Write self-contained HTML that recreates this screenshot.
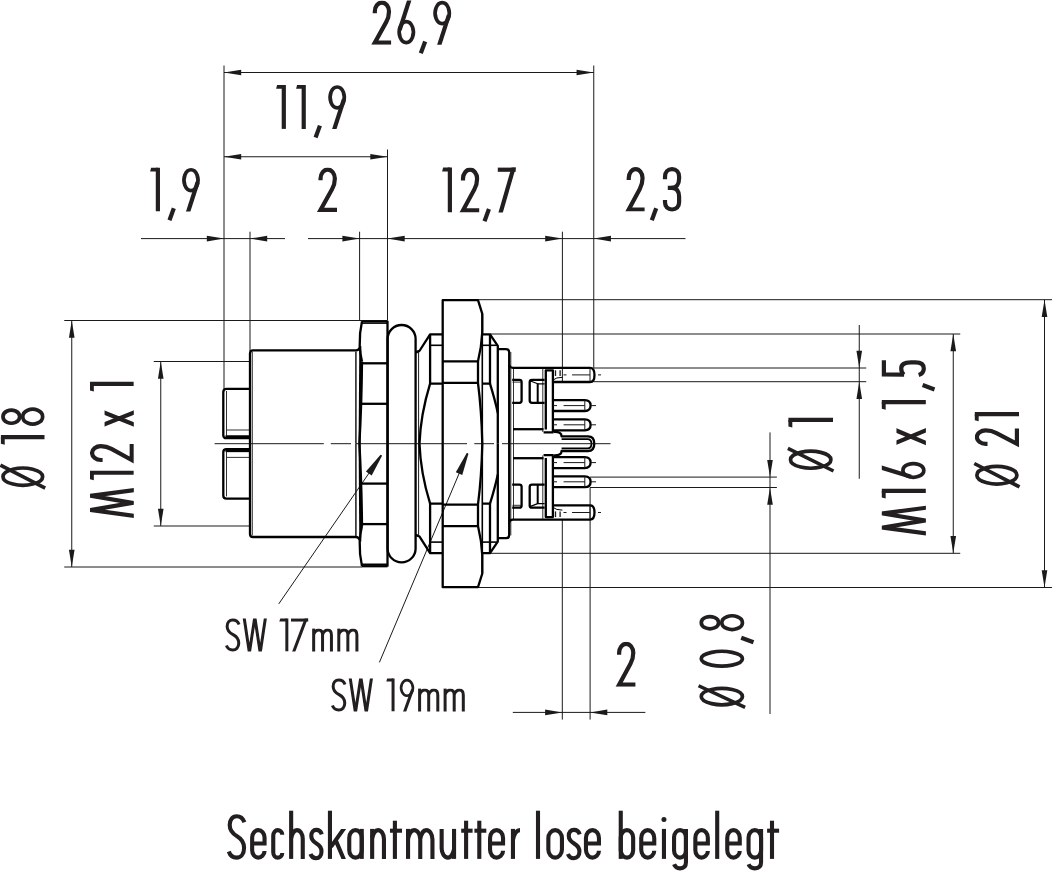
<!DOCTYPE html>
<html><head><meta charset="utf-8"><style>
html,body{margin:0;padding:0;background:#fff;}
svg{display:block;font-family:"Liberation Sans",sans-serif;}
</style></head><body>
<svg width="1052" height="871" viewBox="0 0 1052 871">
<defs><clipPath id="cb" clipPathUnits="userSpaceOnUse"><rect x="-10" y="0" width="60" height="44.5"/></clipPath>
<clipPath id="cx" clipPathUnits="userSpaceOnUse"><rect x="-10" y="14.8" width="60" height="29.7"/></clipPath>
<clipPath id="cm" clipPathUnits="userSpaceOnUse"><rect x="-10" y="13.6" width="60" height="30.9"/></clipPath><clipPath id="ck" clipPathUnits="userSpaceOnUse"><rect x="-5" y="-30" width="40" height="30"/></clipPath></defs>
<rect width="1052" height="871" fill="#fff"/>
<g transform="translate(372.70 0.50) scale(1.0055 0.9933)"><path d="M2.1,12.8 V11 A7.05,8.9 0 0 1 16.2,11 C16.2,15.5 15.4,18.2 13.4,21.8 L2.1,42.4 H18.3" fill="none" stroke="#231f20" stroke-width="4.2" vector-effect="non-scaling-stroke" stroke-miterlimit="20" clip-path="url(#cb)"/></g>
<g transform="translate(397.10 0.50) scale(1.0000 0.9933)"><path d="M9.2,21.3 A7.1,10.55 0 1 1 9.19,21.3 Z" fill="none" stroke="#231f20" stroke-width="3.70" vector-effect="non-scaling-stroke"/><path d="M2.6,29.5 L12.7,-2" fill="none" stroke="#231f20" stroke-width="4.2" vector-effect="non-scaling-stroke" stroke-miterlimit="20" clip-path="url(#cb)"/></g>
<g transform="translate(418.90 0.50) scale(0.9933 0.9933)"><path d="M6.3,41.2 L1.9,53.2" fill="none" stroke="#231f20" stroke-width="4.2" vector-effect="non-scaling-stroke" stroke-miterlimit="20"/></g>
<g transform="translate(433.00 0.50) scale(1.0000 0.9933)"><path d="M9.2,2.1 A7.1,10.55 0 1 1 9.19,2.1 Z" fill="none" stroke="#231f20" stroke-width="3.70" vector-effect="non-scaling-stroke"/><path d="M15.8,15 L5.7,46.5" fill="none" stroke="#231f20" stroke-width="4.2" vector-effect="non-scaling-stroke" stroke-miterlimit="20" clip-path="url(#cb)"/></g>
<g transform="translate(276.10 84.90) scale(1.0000 0.9888)"><path d="M7.7,-1 V44.5" fill="none" stroke="#231f20" stroke-width="4.2" vector-effect="non-scaling-stroke" stroke-miterlimit="20" clip-path="url(#cb)"/><path d="M1,0 H7.7 V3.9 H0 Z" fill="#231f20"/></g>
<g transform="translate(296.10 84.90) scale(0.9898 0.9888)"><path d="M7.7,-1 V44.5" fill="none" stroke="#231f20" stroke-width="4.2" vector-effect="non-scaling-stroke" stroke-miterlimit="20" clip-path="url(#cb)"/><path d="M1,0 H7.7 V3.9 H0 Z" fill="#231f20"/></g>
<g transform="translate(313.70 84.90) scale(0.9888 0.9888)"><path d="M6.3,41.2 L1.9,53.2" fill="none" stroke="#231f20" stroke-width="4.2" vector-effect="non-scaling-stroke" stroke-miterlimit="20"/></g>
<g transform="translate(328.00 84.90) scale(1.0000 0.9888)"><path d="M9.2,2.1 A7.1,10.55 0 1 1 9.19,2.1 Z" fill="none" stroke="#231f20" stroke-width="3.70" vector-effect="non-scaling-stroke"/><path d="M15.8,15 L5.7,46.5" fill="none" stroke="#231f20" stroke-width="4.2" vector-effect="non-scaling-stroke" stroke-miterlimit="20" clip-path="url(#cb)"/></g>
<g transform="translate(150.10 167.70) scale(1.0102 0.9865)"><path d="M7.7,-1 V44.5" fill="none" stroke="#231f20" stroke-width="4.2" vector-effect="non-scaling-stroke" stroke-miterlimit="20" clip-path="url(#cb)"/><path d="M1,0 H7.7 V3.9 H0 Z" fill="#231f20"/></g>
<g transform="translate(167.60 167.70) scale(0.9865 0.9865)"><path d="M6.3,41.2 L1.9,53.2" fill="none" stroke="#231f20" stroke-width="4.2" vector-effect="non-scaling-stroke" stroke-miterlimit="20"/></g>
<g transform="translate(181.90 167.70) scale(0.9891 0.9865)"><path d="M9.2,2.1 A7.1,10.55 0 1 1 9.19,2.1 Z" fill="none" stroke="#231f20" stroke-width="3.70" vector-effect="non-scaling-stroke"/><path d="M15.8,15 L5.7,46.5" fill="none" stroke="#231f20" stroke-width="4.2" vector-effect="non-scaling-stroke" stroke-miterlimit="20" clip-path="url(#cb)"/></g>
<g transform="translate(318.40 167.50) scale(1.0164 1.0000)"><path d="M2.1,12.8 V11 A7.05,8.9 0 0 1 16.2,11 C16.2,15.5 15.4,18.2 13.4,21.8 L2.1,42.4 H18.3" fill="none" stroke="#231f20" stroke-width="4.2" vector-effect="non-scaling-stroke" stroke-miterlimit="20" clip-path="url(#cb)"/></g>
<g transform="translate(442.10 167.60) scale(1.0102 1.0067)"><path d="M7.7,-1 V44.5" fill="none" stroke="#231f20" stroke-width="4.2" vector-effect="non-scaling-stroke" stroke-miterlimit="20" clip-path="url(#cb)"/><path d="M1,0 H7.7 V3.9 H0 Z" fill="#231f20"/></g>
<g transform="translate(460.90 167.60) scale(1.0000 1.0067)"><path d="M2.1,12.8 V11 A7.05,8.9 0 0 1 16.2,11 C16.2,15.5 15.4,18.2 13.4,21.8 L2.1,42.4 H18.3" fill="none" stroke="#231f20" stroke-width="4.2" vector-effect="non-scaling-stroke" stroke-miterlimit="20" clip-path="url(#cb)"/></g>
<g transform="translate(482.60 167.60) scale(1.0067 1.0067)"><path d="M6.3,41.2 L1.9,53.2" fill="none" stroke="#231f20" stroke-width="4.2" vector-effect="non-scaling-stroke" stroke-miterlimit="20"/></g>
<g transform="translate(497.80 167.60) scale(1.0000 1.0067)"><path d="M0,2.1 H17.9" fill="none" stroke="#231f20" stroke-width="4.2" vector-effect="non-scaling-stroke" stroke-miterlimit="20"/><path d="M16.4,-2 L2.3,46.5" fill="none" stroke="#231f20" stroke-width="4.2" vector-effect="non-scaling-stroke" stroke-miterlimit="20" clip-path="url(#cb)"/></g>
<g transform="translate(626.70 167.10) scale(0.9781 1.0000)"><path d="M2.1,12.8 V11 A7.05,8.9 0 0 1 16.2,11 C16.2,15.5 15.4,18.2 13.4,21.8 L2.1,42.4 H18.3" fill="none" stroke="#231f20" stroke-width="4.2" vector-effect="non-scaling-stroke" stroke-miterlimit="20" clip-path="url(#cb)"/></g>
<g transform="translate(649.90 167.10) scale(1.0000 1.0000)"><path d="M6.3,41.2 L1.9,53.2" fill="none" stroke="#231f20" stroke-width="4.2" vector-effect="non-scaling-stroke" stroke-miterlimit="20"/></g>
<g transform="translate(662.90 167.10) scale(1.0000 1.0000)"><path d="M2.1,12.2 V9.6 C2.1,4.9 4.9,2.1 9.15,2.1 C13.4,2.1 16.2,4.9 16.2,9.6 V11.5 C16.2,17.2 13.2,20.7 9,20.7 H4.9" fill="none" stroke="#231f20" stroke-width="4.2" vector-effect="non-scaling-stroke" stroke-miterlimit="20"/><path d="M8.5,20.7 H9 C13.5,20.7 16.2,24 16.2,29.5 V35.2 C16.2,39.8 13.4,42.4 9.15,42.4 C4.9,42.4 2.1,39.8 2.1,35.2 V33" fill="none" stroke="#231f20" stroke-width="4.2" vector-effect="non-scaling-stroke" stroke-miterlimit="20"/></g>
<g transform="translate(617.00 641.70) scale(1.0055 1.0135)"><path d="M2.1,12.8 V11 A7.05,8.9 0 0 1 16.2,11 C16.2,15.5 15.4,18.2 13.4,21.8 L2.1,42.4 H18.3" fill="none" stroke="#231f20" stroke-width="4.2" vector-effect="non-scaling-stroke" stroke-miterlimit="20" clip-path="url(#cb)"/></g>
<g transform="translate(90.00 517.80) rotate(-90) scale(1.0034 0.9843)"><path d="M1.6,48 L7.8,1.2 L14.85,43.3 L21.9,1.2 L28.1,48" fill="none" stroke="#231f20" stroke-width="4.2" vector-effect="non-scaling-stroke" stroke-miterlimit="20" clip-path="url(#cb)"/></g>
<g transform="translate(90.00 480.20) rotate(-90) scale(0.9694 0.9843)"><path d="M7.7,-1 V44.5" fill="none" stroke="#231f20" stroke-width="4.2" vector-effect="non-scaling-stroke" stroke-miterlimit="20" clip-path="url(#cb)"/><path d="M1,0 H7.7 V3.9 H0 Z" fill="#231f20"/></g>
<g transform="translate(90.00 462.10) rotate(-90) scale(0.9891 0.9843)"><path d="M2.1,12.8 V11 A7.05,8.9 0 0 1 16.2,11 C16.2,15.5 15.4,18.2 13.4,21.8 L2.1,42.4 H18.3" fill="none" stroke="#231f20" stroke-width="4.2" vector-effect="non-scaling-stroke" stroke-miterlimit="20" clip-path="url(#cb)"/></g>
<g transform="translate(90.00 426.70) rotate(-90) scale(0.9425 0.9843)"><path d="M1.5,12 L16,47 M15.9,12 L1.4,47" fill="none" stroke="#231f20" stroke-width="4.2" vector-effect="non-scaling-stroke" stroke-miterlimit="20" clip-path="url(#cx)"/></g>
<g transform="translate(90.00 391.40) rotate(-90) scale(0.9694 0.9843)"><path d="M7.7,-1 V44.5" fill="none" stroke="#231f20" stroke-width="4.2" vector-effect="non-scaling-stroke" stroke-miterlimit="20" clip-path="url(#cb)"/><path d="M1,0 H7.7 V3.9 H0 Z" fill="#231f20"/></g>
<g transform="translate(0.90 487.30) rotate(-90) scale(0.9907 0.9843)"><path d="M10.75,2.1 A8.65,20.15 0 1 1 10.74,2.1 Z" fill="none" stroke="#231f20" stroke-width="3.70" vector-effect="non-scaling-stroke"/><path d="M-0.8,45 L22.3,-0.5" fill="none" stroke="#231f20" stroke-width="3.57" vector-effect="non-scaling-stroke"/></g>
<g transform="translate(0.90 444.70) rotate(-90) scale(0.9796 0.9843)"><path d="M7.7,-1 V44.5" fill="none" stroke="#231f20" stroke-width="4.2" vector-effect="non-scaling-stroke" stroke-miterlimit="20" clip-path="url(#cb)"/><path d="M1,0 H7.7 V3.9 H0 Z" fill="#231f20"/></g>
<g transform="translate(0.90 426.20) rotate(-90) scale(1.0380 0.9843)"><path d="M9.2,2.1 A6.3,8.5 0 1 1 9.19,2.1 Z" fill="none" stroke="#231f20" stroke-width="3.70" vector-effect="non-scaling-stroke"/><path d="M9.2,22.2 A7.1,10.1 0 1 1 9.19,22.2 Z" fill="none" stroke="#231f20" stroke-width="3.70" vector-effect="non-scaling-stroke"/></g>
<g transform="translate(881.80 535.30) rotate(-90) scale(0.9966 0.9910)"><path d="M1.6,48 L7.8,1.2 L14.85,43.3 L21.9,1.2 L28.1,48" fill="none" stroke="#231f20" stroke-width="4.2" vector-effect="non-scaling-stroke" stroke-miterlimit="20" clip-path="url(#cb)"/></g>
<g transform="translate(881.80 498.50) rotate(-90) scale(0.9796 0.9910)"><path d="M7.7,-1 V44.5" fill="none" stroke="#231f20" stroke-width="4.2" vector-effect="non-scaling-stroke" stroke-miterlimit="20" clip-path="url(#cb)"/><path d="M1,0 H7.7 V3.9 H0 Z" fill="#231f20"/></g>
<g transform="translate(881.80 479.20) rotate(-90) scale(0.9511 0.9910)"><path d="M9.2,21.3 A7.1,10.55 0 1 1 9.19,21.3 Z" fill="none" stroke="#231f20" stroke-width="3.70" vector-effect="non-scaling-stroke"/><path d="M2.6,29.5 L12.7,-2" fill="none" stroke="#231f20" stroke-width="4.2" vector-effect="non-scaling-stroke" stroke-miterlimit="20" clip-path="url(#cb)"/></g>
<g transform="translate(881.80 445.30) rotate(-90) scale(1.0000 0.9910)"><path d="M1.5,12 L16,47 M15.9,12 L1.4,47" fill="none" stroke="#231f20" stroke-width="4.2" vector-effect="non-scaling-stroke" stroke-miterlimit="20" clip-path="url(#cx)"/></g>
<g transform="translate(881.80 409.70) rotate(-90) scale(0.9898 0.9910)"><path d="M7.7,-1 V44.5" fill="none" stroke="#231f20" stroke-width="4.2" vector-effect="non-scaling-stroke" stroke-miterlimit="20" clip-path="url(#cb)"/><path d="M1,0 H7.7 V3.9 H0 Z" fill="#231f20"/></g>
<g transform="translate(881.80 391.30) rotate(-90) scale(0.9910 0.9910)"><path d="M6.3,41.2 L1.9,53.2" fill="none" stroke="#231f20" stroke-width="4.2" vector-effect="non-scaling-stroke" stroke-miterlimit="20"/></g>
<g transform="translate(881.80 377.00) rotate(-90) scale(1.0000 0.9910)"><path d="M16.7,2.1 H2.6 L2.3,22.5" fill="none" stroke="#231f20" stroke-width="4.2" vector-effect="non-scaling-stroke" stroke-miterlimit="20"/><path d="M2.3,22.2 C4,20.4 6,19.6 8.6,19.6 C12.6,19.6 14.6,23 14.6,29.5 V34 C14.6,39.6 12.3,42.4 8.4,42.4 C5.2,42.4 3,40.6 2.0,37.2" fill="none" stroke="#231f20" stroke-width="4.2" vector-effect="non-scaling-stroke" stroke-miterlimit="20"/></g>
<g transform="translate(974.80 486.10) rotate(-90) scale(1.0140 0.9933)"><path d="M10.75,2.1 A8.65,20.15 0 1 1 10.74,2.1 Z" fill="none" stroke="#231f20" stroke-width="3.70" vector-effect="non-scaling-stroke"/><path d="M-0.8,45 L22.3,-0.5" fill="none" stroke="#231f20" stroke-width="3.57" vector-effect="non-scaling-stroke"/></g>
<g transform="translate(974.80 445.80) rotate(-90) scale(0.9508 0.9933)"><path d="M2.1,12.8 V11 A7.05,8.9 0 0 1 16.2,11 C16.2,15.5 15.4,18.2 13.4,21.8 L2.1,42.4 H18.3" fill="none" stroke="#231f20" stroke-width="4.2" vector-effect="non-scaling-stroke" stroke-miterlimit="20" clip-path="url(#cb)"/></g>
<g transform="translate(974.80 421.30) rotate(-90) scale(0.9286 0.9933)"><path d="M7.7,-1 V44.5" fill="none" stroke="#231f20" stroke-width="4.2" vector-effect="non-scaling-stroke" stroke-miterlimit="20" clip-path="url(#cb)"/><path d="M1,0 H7.7 V3.9 H0 Z" fill="#231f20"/></g>
<g transform="translate(788.40 470.20) rotate(-90) scale(0.9767 1.0022)"><path d="M10.75,2.1 A8.65,20.15 0 1 1 10.74,2.1 Z" fill="none" stroke="#231f20" stroke-width="3.70" vector-effect="non-scaling-stroke"/><path d="M-0.8,45 L22.3,-0.5" fill="none" stroke="#231f20" stroke-width="3.57" vector-effect="non-scaling-stroke"/></g>
<g transform="translate(788.40 427.60) rotate(-90) scale(1.0000 1.0022)"><path d="M7.7,-1 V44.5" fill="none" stroke="#231f20" stroke-width="4.2" vector-effect="non-scaling-stroke" stroke-miterlimit="20" clip-path="url(#cb)"/><path d="M1,0 H7.7 V3.9 H0 Z" fill="#231f20"/></g>
<g transform="translate(699.10 706.70) rotate(-90) scale(0.9395 1.0225)"><path d="M10.75,2.1 A8.65,20.15 0 1 1 10.74,2.1 Z" fill="none" stroke="#231f20" stroke-width="3.70" vector-effect="non-scaling-stroke"/><path d="M-0.8,45 L22.3,-0.5" fill="none" stroke="#231f20" stroke-width="3.57" vector-effect="non-scaling-stroke"/></g>
<g transform="translate(699.10 668.20) rotate(-90) scale(1.0215 1.0225)"><path d="M9.3,2.1 A7.2,20.15 0 1 1 9.29,2.1 Z" fill="none" stroke="#231f20" stroke-width="3.70" vector-effect="non-scaling-stroke"/></g>
<g transform="translate(699.10 644.20) rotate(-90) scale(1.0225 1.0225)"><path d="M6.3,41.2 L1.9,53.2" fill="none" stroke="#231f20" stroke-width="4.2" vector-effect="non-scaling-stroke" stroke-miterlimit="20"/></g>
<g transform="translate(699.10 631.50) rotate(-90) scale(0.9620 1.0225)"><path d="M9.2,2.1 A6.3,8.5 0 1 1 9.19,2.1 Z" fill="none" stroke="#231f20" stroke-width="3.70" vector-effect="non-scaling-stroke"/><path d="M9.2,22.2 A7.1,10.1 0 1 1 9.19,22.2 Z" fill="none" stroke="#231f20" stroke-width="3.70" vector-effect="non-scaling-stroke"/></g>
<g transform="translate(225.20 618.50) scale(0.7451 0.7438)"><path d="M18.6,8 C17,4 14,2.1 10.2,2.1 C5.5,2.1 2.6,5.5 2.6,10.6 C2.6,16.3 6.3,19.3 10.6,21.6 C15.6,24.2 18.2,27.5 18.2,33 C18.2,38.8 14.8,42.4 10,42.4 C6,42.4 3.1,40.3 1.6,36.4" fill="none" stroke="#231f20" stroke-width="3.0" vector-effect="non-scaling-stroke" stroke-miterlimit="20"/></g>
<g transform="translate(242.70 618.50) scale(0.7446 0.7438)"><path d="M1.8,-2 L9.0,46 L16.25,-2 L23.5,46 L30.7,-2" fill="none" stroke="#231f20" stroke-width="3.0" vector-effect="non-scaling-stroke" stroke-miterlimit="20" clip-path="url(#cb)"/></g>
<g transform="translate(279.30 618.50) scale(0.9796 0.7438)"><path d="M7.7,-1 V44.5" fill="none" stroke="#231f20" stroke-width="3.0" vector-effect="non-scaling-stroke" stroke-miterlimit="20" clip-path="url(#cb)"/><path d="M1,0 H7.7 V3.9 H0 Z" fill="#231f20"/></g>
<g transform="translate(291.00 618.50) scale(0.9609 0.7438)"><path d="M0,2.1 H17.9" fill="none" stroke="#231f20" stroke-width="3.0" vector-effect="non-scaling-stroke" stroke-miterlimit="20"/><path d="M16.4,-2 L2.3,46.5" fill="none" stroke="#231f20" stroke-width="3.0" vector-effect="non-scaling-stroke" stroke-miterlimit="20" clip-path="url(#cb)"/></g>
<g transform="translate(312.10 618.50) scale(0.7438 0.7438)"><path d="M2.1,13 V46 M2.1,22 C3.5,17.5 6,15.6 9.2,15.6 C12.5,15.6 14.05,18 14.05,22.5 V46 M14.05,22 C15.5,17.5 18,15.6 21.1,15.6 C24.4,15.6 26,18 26,22.5 V46" fill="none" stroke="#231f20" stroke-width="3.0" vector-effect="non-scaling-stroke" stroke-miterlimit="20" clip-path="url(#cm)"/></g>
<g transform="translate(337.20 618.50) scale(0.7580 0.7438)"><path d="M2.1,13 V46 M2.1,22 C3.5,17.5 6,15.6 9.2,15.6 C12.5,15.6 14.05,18 14.05,22.5 V46 M14.05,22 C15.5,17.5 18,15.6 21.1,15.6 C24.4,15.6 26,18 26,22.5 V46" fill="none" stroke="#231f20" stroke-width="3.0" vector-effect="non-scaling-stroke" stroke-miterlimit="20" clip-path="url(#cm)"/></g>
<g transform="translate(331.20 678.50) scale(0.7451 0.7438)"><path d="M18.6,8 C17,4 14,2.1 10.2,2.1 C5.5,2.1 2.6,5.5 2.6,10.6 C2.6,16.3 6.3,19.3 10.6,21.6 C15.6,24.2 18.2,27.5 18.2,33 C18.2,38.8 14.8,42.4 10,42.4 C6,42.4 3.1,40.3 1.6,36.4" fill="none" stroke="#231f20" stroke-width="3.0" vector-effect="non-scaling-stroke" stroke-miterlimit="20"/></g>
<g transform="translate(348.70 678.50) scale(0.7477 0.7438)"><path d="M1.8,-2 L9.0,46 L16.25,-2 L23.5,46 L30.7,-2" fill="none" stroke="#231f20" stroke-width="3.0" vector-effect="non-scaling-stroke" stroke-miterlimit="20" clip-path="url(#cb)"/></g>
<g transform="translate(386.30 678.50) scale(0.8776 0.7438)"><path d="M7.7,-1 V44.5" fill="none" stroke="#231f20" stroke-width="3.0" vector-effect="non-scaling-stroke" stroke-miterlimit="20" clip-path="url(#cb)"/><path d="M1,0 H7.7 V3.9 H0 Z" fill="#231f20"/></g>
<g transform="translate(399.40 678.50) scale(0.8261 0.7438)"><path d="M9.2,2.1 A7.1,10.55 0 1 1 9.19,2.1 Z" fill="none" stroke="#231f20" stroke-width="2.64" vector-effect="non-scaling-stroke"/><path d="M15.8,15 L5.7,46.5" fill="none" stroke="#231f20" stroke-width="3.0" vector-effect="non-scaling-stroke" stroke-miterlimit="20" clip-path="url(#cb)"/></g>
<g transform="translate(418.00 678.50) scale(0.7616 0.7438)"><path d="M2.1,13 V46 M2.1,22 C3.5,17.5 6,15.6 9.2,15.6 C12.5,15.6 14.05,18 14.05,22.5 V46 M14.05,22 C15.5,17.5 18,15.6 21.1,15.6 C24.4,15.6 26,18 26,22.5 V46" fill="none" stroke="#231f20" stroke-width="3.0" vector-effect="non-scaling-stroke" stroke-miterlimit="20" clip-path="url(#cm)"/></g>
<g transform="translate(443.50 678.50) scale(0.7616 0.7438)"><path d="M2.1,13 V46 M2.1,22 C3.5,17.5 6,15.6 9.2,15.6 C12.5,15.6 14.05,18 14.05,22.5 V46 M14.05,22 C15.5,17.5 18,15.6 21.1,15.6 C24.4,15.6 26,18 26,22.5 V46" fill="none" stroke="#231f20" stroke-width="3.0" vector-effect="non-scaling-stroke" stroke-miterlimit="20" clip-path="url(#cm)"/></g>
<g transform="translate(227.30 814.10) scale(0.9216 1.0270)"><path d="M18.6,8 C17,4 14,2.1 10.2,2.1 C5.5,2.1 2.6,5.5 2.6,10.6 C2.6,16.3 6.3,19.3 10.6,21.6 C15.6,24.2 18.2,27.5 18.2,33 C18.2,38.8 14.8,42.4 10,42.4 C6,42.4 3.1,40.3 1.6,36.4" fill="none" stroke="#231f20" stroke-width="4.1" vector-effect="non-scaling-stroke" stroke-miterlimit="20"/></g>
<g transform="translate(309.40 828.40) scale(0.6716 0.7034)"><path d="M18.4,8.5 C17,4.2 14,2.1 10.2,2.1 C5.8,2.1 2.8,5.3 2.8,10.6 C2.8,16.3 6.5,19.3 10.6,21.6 C15.4,24.2 18,27.5 18,33 C18,38.8 14.8,42.4 10,42.4 C6,42.4 3.1,40.3 1.6,36.4" fill="none" stroke="#231f20" stroke-width="4.1" vector-effect="non-scaling-stroke" stroke-miterlimit="20"/></g>
<g transform="translate(566.80 828.40) scale(0.7010 0.7034)"><path d="M18.4,8.5 C17,4.2 14,2.1 10.2,2.1 C5.8,2.1 2.8,5.3 2.8,10.6 C2.8,16.3 6.5,19.3 10.6,21.6 C15.4,24.2 18,27.5 18,33 C18,38.8 14.8,42.4 10,42.4 C6,42.4 3.1,40.3 1.6,36.4" fill="none" stroke="#231f20" stroke-width="4.1" vector-effect="non-scaling-stroke" stroke-miterlimit="20"/></g>
<g transform="translate(250.10 858.90)"><path d="M2.05,-15.40 H14.45 V-21.31 C14.45,-25.42 11.67,-28.75 8.25,-28.75 C4.83,-28.75 2.05,-25.42 2.05,-21.31 V-8.69 C2.05,-4.58 4.83,-1.25 8.25,-1.25 C10.99,-1.25 14.45,-3.85 14.45,-7.95" fill="none" stroke="#231f20" stroke-width="4.1"/></g>
<g transform="translate(271.20 858.90)"><path d="M11.05,-24.16 C11.05,-27.13 8.54,-28.75 6.55,-28.75 C4.06,-28.75 2.05,-26.33 2.05,-23.35 V-6.65 C2.05,-3.67 4.06,-1.25 6.55,-1.25 C8.54,-1.25 11.05,-2.87 11.05,-5.84" fill="none" stroke="#231f20" stroke-width="4.1"/></g>
<g transform="translate(289.10 858.90)"><path d="M2.05,-48.20 V0" fill="none" stroke="#231f20" stroke-width="4.1"/><path d="M2.05,-20.92 C3.50,-26.14 4.65,-28.75 7.85,-28.75 C11.05,-28.75 13.65,-24.86 13.65,-20.05 V0" fill="none" stroke="#231f20" stroke-width="4.1"/></g>
<g transform="translate(327.90 858.90)"><path d="M2.05,-48.20 V0" fill="none" stroke="#231f20" stroke-width="4.1"/><path d="M17.20,-32.00 L3.05,-12.00 M7.64,-19.00 L16.60,2.00" fill="none" stroke="#231f20" stroke-width="4.1" clip-path="url(#ck)"/></g>
<g transform="translate(347.20 858.90)"><path d="M14.55,-30.00 V0" fill="none" stroke="#231f20" stroke-width="4.1"/><path d="M2.05,-21.25 C2.05,-25.39 4.85,-28.75 8.30,-28.75 C11.75,-28.75 14.55,-25.39 14.55,-21.25 V-8.75 C14.55,-4.61 11.75,-1.25 8.30,-1.25 C4.85,-1.25 2.05,-4.61 2.05,-8.75 Z" fill="none" stroke="#231f20" stroke-width="4.1"/></g>
<g transform="translate(370.10 858.90)"><path d="M2.05,-30.00 V0" fill="none" stroke="#231f20" stroke-width="4.1"/><path d="M2.05,-20.78 C3.52,-26.09 4.69,-28.75 7.95,-28.75 C11.21,-28.75 13.85,-24.79 13.85,-19.90 V0" fill="none" stroke="#231f20" stroke-width="4.1"/></g>
<g transform="translate(390.00 858.90)"><path d="M4.90,-38.20 V0" fill="none" stroke="#231f20" stroke-width="4.1"/><path d="M0,-28.20 H12.00" fill="none" stroke="#231f20" stroke-width="4.1"/></g>
<g transform="translate(406.00 858.90)"><path d="M2.05,-30.00 V0" fill="none" stroke="#231f20" stroke-width="4.1"/><path d="M2.05,-20.52 C3.57,-26.00 4.78,-28.75 8.15,-28.75 C11.52,-28.75 14.25,-24.65 14.25,-19.60 V0" fill="none" stroke="#231f20" stroke-width="4.1"/><path d="M14.25,-20.52 C15.78,-26.00 16.98,-28.75 20.35,-28.75 C23.72,-28.75 26.45,-24.65 26.45,-19.60 V0" fill="none" stroke="#231f20" stroke-width="4.1"/></g>
<g transform="translate(439.60 858.90)"><path d="M14.45,-30.00 V0" fill="none" stroke="#231f20" stroke-width="4.1"/><path d="M2.05,-30.00 V-10.55 C2.05,-5.41 4.83,-1.25 8.25,-1.25 C11.67,-1.25 12.90,-4.04 14.45,-9.62" fill="none" stroke="#231f20" stroke-width="4.1"/></g>
<g transform="translate(461.20 858.90)"><path d="M4.90,-38.20 V0" fill="none" stroke="#231f20" stroke-width="4.1"/><path d="M0,-28.20 H11.40" fill="none" stroke="#231f20" stroke-width="4.1"/></g>
<g transform="translate(474.40 858.90)"><path d="M4.90,-38.20 V0" fill="none" stroke="#231f20" stroke-width="4.1"/><path d="M0,-28.20 H11.90" fill="none" stroke="#231f20" stroke-width="4.1"/></g>
<g transform="translate(488.00 858.90)"><path d="M2.05,-15.40 H15.05 V-20.95 C15.05,-25.26 12.14,-28.75 8.55,-28.75 C4.96,-28.75 2.05,-25.26 2.05,-20.95 V-9.05 C2.05,-4.74 4.96,-1.25 8.55,-1.25 C11.42,-1.25 15.05,-3.98 15.05,-8.27" fill="none" stroke="#231f20" stroke-width="4.1"/></g>
<g transform="translate(510.90 858.90)"><path d="M2.05,-30.00 V0" fill="none" stroke="#231f20" stroke-width="4.1"/><path d="M2.05,-19.00 C3.55,-26.50 5.55,-28.75 9.10,-28.75" fill="none" stroke="#231f20" stroke-width="4.1"/></g>
<g transform="translate(536.00 858.90)"><path d="M2.00,-48.20 V0" fill="none" stroke="#231f20" stroke-width="4.1"/></g>
<g transform="translate(546.30 858.90)"><path d="M2.05,-20.59 C2.05,-25.10 5.09,-28.75 8.85,-28.75 C12.61,-28.75 15.65,-25.10 15.65,-20.59 V-9.41 C15.65,-4.90 12.61,-1.25 8.85,-1.25 C5.09,-1.25 2.05,-4.90 2.05,-9.41 Z" fill="none" stroke="#231f20" stroke-width="4.1"/></g>
<g transform="translate(583.90 858.90)"><path d="M2.05,-15.40 H15.05 V-20.95 C15.05,-25.26 12.14,-28.75 8.55,-28.75 C4.96,-28.75 2.05,-25.26 2.05,-20.95 V-9.05 C2.05,-4.74 4.96,-1.25 8.55,-1.25 C11.42,-1.25 15.05,-3.98 15.05,-8.27" fill="none" stroke="#231f20" stroke-width="4.1"/></g>
<g transform="translate(618.70 858.90)"><path d="M2.05,-48.20 V0" fill="none" stroke="#231f20" stroke-width="4.1"/><path d="M2.05,-21.31 C2.05,-25.42 4.83,-28.75 8.25,-28.75 C11.67,-28.75 14.45,-25.42 14.45,-21.31 V-8.69 C14.45,-4.58 11.67,-1.25 8.25,-1.25 C4.83,-1.25 2.05,-4.58 2.05,-8.69 Z" fill="none" stroke="#231f20" stroke-width="4.1"/></g>
<g transform="translate(639.20 858.90)"><path d="M2.05,-15.40 H15.05 V-20.95 C15.05,-25.26 12.14,-28.75 8.55,-28.75 C4.96,-28.75 2.05,-25.26 2.05,-20.95 V-9.05 C2.05,-4.74 4.96,-1.25 8.55,-1.25 C11.42,-1.25 15.05,-3.98 15.05,-8.27" fill="none" stroke="#231f20" stroke-width="4.1"/></g>
<g transform="translate(661.30 858.90)"><path d="M2.65,-30.00 V0" fill="none" stroke="#231f20" stroke-width="4.1"/><circle cx="2.65" cy="-39.50" r="2.5" fill="#231f20"/></g>
<g transform="translate(672.00 858.90)"><path d="M2.05,-21.61 C2.05,-25.55 4.71,-28.75 8.00,-28.75 C11.29,-28.75 13.95,-25.55 13.95,-21.61 V-8.39 C13.95,-4.45 11.29,-1.25 8.00,-1.25 C4.71,-1.25 2.05,-4.45 2.05,-8.39 Z" fill="none" stroke="#231f20" stroke-width="4.1"/><path d="M13.95,-30.00 V3.45 C13.95,8.45 11.29,9.45 8.00,9.45 C5.70,9.45 3.05,7.95 2.05,5.45" fill="none" stroke="#231f20" stroke-width="4.1"/></g>
<g transform="translate(693.30 858.90)"><path d="M2.05,-15.40 H14.55 V-21.25 C14.55,-25.39 11.75,-28.75 8.30,-28.75 C4.85,-28.75 2.05,-25.39 2.05,-21.25 V-8.75 C2.05,-4.61 4.85,-1.25 8.30,-1.25 C11.06,-1.25 14.55,-3.88 14.55,-8.00" fill="none" stroke="#231f20" stroke-width="4.1"/></g>
<g transform="translate(715.20 858.90)"><path d="M2.00,-48.20 V0" fill="none" stroke="#231f20" stroke-width="4.1"/></g>
<g transform="translate(725.20 858.90)"><path d="M2.05,-15.40 H14.55 V-21.25 C14.55,-25.39 11.75,-28.75 8.30,-28.75 C4.85,-28.75 2.05,-25.39 2.05,-21.25 V-8.75 C2.05,-4.61 4.85,-1.25 8.30,-1.25 C11.06,-1.25 14.55,-3.88 14.55,-8.00" fill="none" stroke="#231f20" stroke-width="4.1"/></g>
<g transform="translate(746.50 858.90)"><path d="M2.05,-21.25 C2.05,-25.39 4.85,-28.75 8.30,-28.75 C11.75,-28.75 14.55,-25.39 14.55,-21.25 V-8.75 C14.55,-4.61 11.75,-1.25 8.30,-1.25 C4.85,-1.25 2.05,-4.61 2.05,-8.75 Z" fill="none" stroke="#231f20" stroke-width="4.1"/><path d="M14.55,-30.00 V3.45 C14.55,8.45 11.75,9.45 8.30,9.45 C5.88,9.45 3.05,7.95 2.05,5.45" fill="none" stroke="#231f20" stroke-width="4.1"/></g>
<g transform="translate(767.10 858.90)"><path d="M4.90,-38.20 V0" fill="none" stroke="#231f20" stroke-width="4.1"/><path d="M0,-28.20 H12.00" fill="none" stroke="#231f20" stroke-width="4.1"/></g>
<line x1="224" y1="65.5" x2="224" y2="388.8" stroke="#1a1a1a" stroke-width="1.0"/>
<line x1="250" y1="231.7" x2="250" y2="351" stroke="#1a1a1a" stroke-width="1.0"/>
<line x1="359.6" y1="231.7" x2="359.6" y2="320.5" stroke="#1a1a1a" stroke-width="1.0"/>
<line x1="387.5" y1="149.5" x2="387.5" y2="320.5" stroke="#1a1a1a" stroke-width="1.0"/>
<line x1="562.4" y1="231.7" x2="562.4" y2="381.6" stroke="#1a1a1a" stroke-width="1.0"/>
<line x1="593.75" y1="65.5" x2="593.75" y2="368" stroke="#1a1a1a" stroke-width="1.0"/>
<line x1="224" y1="72.5" x2="593.75" y2="72.5" stroke="#1a1a1a" stroke-width="1.0"/>
<polygon points="224.00,72.50 241.20,69.70 241.20,75.30" fill="#1a1a1a"/>
<polygon points="593.75,72.50 576.55,69.70 576.55,75.30" fill="#1a1a1a"/>
<line x1="224" y1="156.75" x2="387.5" y2="156.75" stroke="#1a1a1a" stroke-width="1.0"/>
<polygon points="224.00,156.75 241.20,153.95 241.20,159.55" fill="#1a1a1a"/>
<polygon points="387.50,156.75 370.30,153.95 370.30,159.55" fill="#1a1a1a"/>
<line x1="141" y1="238.6" x2="285" y2="238.6" stroke="#1a1a1a" stroke-width="1.0"/>
<polygon points="224.00,238.60 206.80,235.80 206.80,241.40" fill="#1a1a1a"/>
<polygon points="250.00,238.60 267.20,235.80 267.20,241.40" fill="#1a1a1a"/>
<line x1="308" y1="238.6" x2="685.5" y2="238.6" stroke="#1a1a1a" stroke-width="1.0"/>
<polygon points="359.60,238.60 342.40,235.80 342.40,241.40" fill="#1a1a1a"/>
<polygon points="387.50,238.60 404.70,235.80 404.70,241.40" fill="#1a1a1a"/>
<polygon points="562.40,238.60 545.20,235.80 545.20,241.40" fill="#1a1a1a"/>
<polygon points="593.75,238.60 610.95,235.80 610.95,241.40" fill="#1a1a1a"/>
<line x1="64.25" y1="320.5" x2="362" y2="320.5" stroke="#1a1a1a" stroke-width="1.0"/>
<line x1="64.25" y1="567.0" x2="362" y2="567.0" stroke="#1a1a1a" stroke-width="1.0"/>
<line x1="71.75" y1="320.5" x2="71.75" y2="567.0" stroke="#1a1a1a" stroke-width="1.0"/>
<polygon points="71.75,320.50 68.95,337.70 74.55,337.70" fill="#1a1a1a"/>
<polygon points="71.75,567.00 68.95,549.80 74.55,549.80" fill="#1a1a1a"/>
<line x1="153.75" y1="361.5" x2="250" y2="361.5" stroke="#1a1a1a" stroke-width="1.0"/>
<line x1="153.75" y1="526.0" x2="250" y2="526.0" stroke="#1a1a1a" stroke-width="1.0"/>
<line x1="160.75" y1="361.5" x2="160.75" y2="526.0" stroke="#1a1a1a" stroke-width="1.0"/>
<polygon points="160.75,361.50 157.95,378.70 163.55,378.70" fill="#1a1a1a"/>
<polygon points="160.75,526.00 157.95,508.80 163.55,508.80" fill="#1a1a1a"/>
<line x1="478" y1="299.7" x2="1052" y2="299.7" stroke="#1a1a1a" stroke-width="1.0"/>
<line x1="478" y1="587.5" x2="1052" y2="587.5" stroke="#1a1a1a" stroke-width="1.0"/>
<line x1="1044.5" y1="299.7" x2="1044.5" y2="587.5" stroke="#1a1a1a" stroke-width="1.0"/>
<polygon points="1044.50,299.70 1041.70,316.90 1047.30,316.90" fill="#1a1a1a"/>
<polygon points="1044.50,587.50 1041.70,570.30 1047.30,570.30" fill="#1a1a1a"/>
<line x1="490" y1="334.0" x2="960.25" y2="334.0" stroke="#1a1a1a" stroke-width="1.0"/>
<line x1="490" y1="553.3" x2="960.25" y2="553.3" stroke="#1a1a1a" stroke-width="1.0"/>
<line x1="953.25" y1="334.0" x2="953.25" y2="553.3" stroke="#1a1a1a" stroke-width="1.0"/>
<polygon points="953.25,334.00 950.45,351.20 956.05,351.20" fill="#1a1a1a"/>
<polygon points="953.25,553.30 950.45,536.10 956.05,536.10" fill="#1a1a1a"/>
<line x1="594" y1="368" x2="866.25" y2="368" stroke="#1a1a1a" stroke-width="1.0"/>
<line x1="590" y1="381.7" x2="866.25" y2="381.7" stroke="#1a1a1a" stroke-width="1.0"/>
<line x1="859.25" y1="325" x2="859.25" y2="478.75" stroke="#1a1a1a" stroke-width="1.0"/>
<polygon points="859.25,368.00 856.45,350.80 862.05,350.80" fill="#1a1a1a"/>
<polygon points="859.25,381.70 856.45,398.90 862.05,398.90" fill="#1a1a1a"/>
<line x1="590" y1="477.1" x2="776.9" y2="477.1" stroke="#1a1a1a" stroke-width="1.0"/>
<line x1="590" y1="487.5" x2="776.9" y2="487.5" stroke="#1a1a1a" stroke-width="1.0"/>
<line x1="770" y1="432.4" x2="770" y2="714" stroke="#1a1a1a" stroke-width="1.0"/>
<polygon points="770.00,477.10 767.20,459.90 772.80,459.90" fill="#1a1a1a"/>
<polygon points="770.00,487.50 767.20,504.70 772.80,504.70" fill="#1a1a1a"/>
<line x1="562.3" y1="519.5" x2="562.3" y2="719.6" stroke="#1a1a1a" stroke-width="1.0"/>
<line x1="590.1" y1="487.5" x2="590.1" y2="719.6" stroke="#1a1a1a" stroke-width="1.0"/>
<line x1="512.8" y1="712.4" x2="645.4" y2="712.4" stroke="#1a1a1a" stroke-width="1.0"/>
<polygon points="562.30,712.40 545.10,709.60 545.10,715.20" fill="#1a1a1a"/>
<polygon points="590.10,712.40 607.30,709.60 607.30,715.20" fill="#1a1a1a"/>
<line x1="278.75" y1="603.9" x2="381.3" y2="455.3" stroke="#1a1a1a" stroke-width="1.0"/>
<polygon points="382.04,455.81 371.68,475.39 365.92,471.42 380.56,454.79" fill="#1a1a1a"/>
<line x1="379.4" y1="662.4" x2="467.6" y2="453.4" stroke="#1a1a1a" stroke-width="1.0"/>
<polygon points="468.43,453.75 462.27,475.03 455.82,472.31 466.77,453.05" fill="#1a1a1a"/>
<line x1="214.6" y1="443.7" x2="323.8" y2="443.7" stroke="#1a1a1a" stroke-width="1.0"/>
<line x1="330.8" y1="443.7" x2="351" y2="443.7" stroke="#1a1a1a" stroke-width="1.0"/>
<line x1="356" y1="443.7" x2="467" y2="443.7" stroke="#1a1a1a" stroke-width="1.0"/>
<line x1="474.3" y1="443.7" x2="494" y2="443.7" stroke="#1a1a1a" stroke-width="1.0"/>
<line x1="502" y1="443.7" x2="610.5" y2="443.7" stroke="#1a1a1a" stroke-width="1.0"/>
<path d="M250,388.8 H226.5 Q223.3,388.8 223.3,392 V435.2 Q223.3,438.2 226.5,438.2 H250" stroke="#000" stroke-width="2.3" fill="none" stroke-linejoin="round"/>
<line x1="250" y1="436.4" x2="225.5" y2="436.4" stroke="#000" stroke-width="2.3"/>
<line x1="226.5" y1="391" x2="226.5" y2="436" stroke="#1a1a1a" stroke-width="0.9"/>
<line x1="226.5" y1="430" x2="250" y2="430" stroke="#1a1a1a" stroke-width="0.9"/>
<path d="M250,443.7 V353.5 Q250,350.4 253,350.4 H356 Q358.6,350.4 359.6,347.6" stroke="#000" stroke-width="2.3" fill="none" stroke-linejoin="round"/>
<line x1="355.9" y1="351.5" x2="355.9" y2="443.7" stroke="#1a1a1a" stroke-width="1.5"/>
<line x1="252.3" y1="352" x2="252.3" y2="443.7" stroke="#1a1a1a" stroke-width="0.9"/>
<path d="M362,321.2 H387.5" stroke="#000" stroke-width="2.3" fill="none" stroke-linejoin="round"/>
<path d="M362,323.1 H387.5" stroke="#000" stroke-width="1.6" fill="none" stroke-linejoin="round"/>
<path d="M387.5,320.8 V443.7" stroke="#000" stroke-width="2.3" fill="none" stroke-linejoin="round"/>
<path d="M362,321.2 Q359.3,333 359.7,346 Q360.2,354 362,361.4" stroke="#000" stroke-width="2.3" fill="none" stroke-linejoin="round"/>
<path d="M362,361.4 Q361.6,405 359.4,443.7" stroke="#000" stroke-width="2.3" fill="none" stroke-linejoin="round"/>
<path d="M360.3,346 L359.6,443.7" stroke="#000" stroke-width="2.0" fill="none" stroke-linejoin="round"/>
<line x1="362" y1="363.3" x2="387.5" y2="363.3" stroke="#000" stroke-width="2.3"/>
<line x1="362" y1="403.8" x2="387.5" y2="403.8" stroke="#000" stroke-width="2.3"/>
<path d="M387.6,443.7 V339 A14,14 0 0 1 415.6,339 V443.7" stroke="#000" stroke-width="2.3" fill="none" stroke-linejoin="round"/>
<path d="M416,353 Q417,351.2 419.4,351 L430.1,334.3 H442.7" stroke="#000" stroke-width="2.3" fill="none" stroke-linejoin="round"/>
<line x1="418.6" y1="352" x2="418.6" y2="443.7" stroke="#1a1a1a" stroke-width="1.0"/>
<line x1="430.1" y1="345.3" x2="442.7" y2="345.3" stroke="#000" stroke-width="1.6"/>
<path d="M430.1,334.3 V383.7 H442.7" stroke="#000" stroke-width="2.3" fill="none" stroke-linejoin="round"/>
<path d="M430.1,383.7 Q420.5,415 419.5,443.7" stroke="#000" stroke-width="2.3" fill="none" stroke-linejoin="round"/>
<path d="M442.7,443.7 V300.2 H478 L482.3,313.9 V332 Q481.5,347 478,361.3 H442.7" stroke="#000" stroke-width="2.3" fill="none" stroke-linejoin="round"/>
<line x1="442.7" y1="382.8" x2="478" y2="382.8" stroke="#000" stroke-width="2.3"/>
<path d="M478,361.3 V383 Q481.5,410 482.3,443.7" stroke="#000" stroke-width="2.3" fill="none" stroke-linejoin="round"/>
<path d="M482.3,334.3 H490 L497.8,345.8 V443.7" stroke="#000" stroke-width="2.3" fill="none" stroke-linejoin="round"/>
<line x1="482.3" y1="345.3" x2="497.8" y2="345.3" stroke="#000" stroke-width="1.6"/>
<path d="M490,334.3 V383.7 H482.3" stroke="#000" stroke-width="2.3" fill="none" stroke-linejoin="round"/>
<path d="M490,383.7 Q495,400 497.8,413" stroke="#000" stroke-width="2.3" fill="none" stroke-linejoin="round"/>
<path d="M482.3,313.9 V443.7" stroke="#000" stroke-width="1.6" fill="none" stroke-linejoin="round"/>
<path d="M497.9,349.2 H506 Q509.2,349.2 509.2,352.3 V443.7" stroke="#000" stroke-width="2.3" fill="none" stroke-linejoin="round"/>
<line x1="510.8" y1="352" x2="510.8" y2="443.7" stroke="#1a1a1a" stroke-width="0.9"/>
<line x1="513.5" y1="368" x2="513.5" y2="443.7" stroke="#1a1a1a" stroke-width="0.9"/>
<path d="M509.2,365 Q509.5,367.8 513,367.8 H590 Q594.5,367.8 594.5,374.9 Q594.5,382 590,382 H552.9" stroke="#000" stroke-width="2.3" fill="none" stroke-linejoin="round"/>
<path d="M545.8,429.5 V370.3 H552.9 V432 M543.6,432.3 H553.3" stroke="#000" stroke-width="2.3" fill="none" stroke-linejoin="round"/>
<line x1="542.8" y1="368.5" x2="542.8" y2="432" stroke="#1a1a1a" stroke-width="0.9"/>
<path d="M512.2,379.8 H519.5 Q521.6,379.8 521.6,382 V400.6 Q521.6,402.8 519.5,402.8 H512.2" stroke="#000" stroke-width="2.3" fill="none" stroke-linejoin="round"/>
<line x1="512.5" y1="382.1" x2="521.6" y2="382.1" stroke="#1a1a1a" stroke-width="0.9"/>
<path d="M544.6,379.8 H532 Q529.7,379.8 529.7,382 V400.6 Q529.7,402.8 532,402.8 H544.6" stroke="#000" stroke-width="2.3" fill="none" stroke-linejoin="round"/>
<path d="M537.7,383.6 V402.8" stroke="#000" stroke-width="2.0" fill="none" stroke-linejoin="round"/>
<path d="M530.5,381 L537.7,383.8 H544.6" stroke="#000" stroke-width="1.2" fill="none" stroke-linejoin="round"/>
<line x1="513" y1="429.2" x2="543.5" y2="429.2" stroke="#000" stroke-width="2.3"/>
<line x1="555.5" y1="370.3" x2="555.5" y2="376" stroke="#1a1a1a" stroke-width="1.3"/>
<line x1="560.1" y1="370.3" x2="560.1" y2="376" stroke="#1a1a1a" stroke-width="1.3"/>
<path d="M553,380 Q556,377.3 562.4,377.3" stroke="#000" stroke-width="1.0" fill="none" stroke-linejoin="round"/>
<path d="M552.9,400.2 H584.8 Q590.6,400.2 590.6,405.6 Q590.6,411.0 584.8,411.0 H552.9" stroke="#000" stroke-width="2.3" fill="none" stroke-linejoin="round"/>
<line x1="584.8" y1="400.2" x2="584.8" y2="411.0" stroke="#1a1a1a" stroke-width="1.0"/>
<line x1="553" y1="405.6" x2="557" y2="405.6" stroke="#1a1a1a" stroke-width="1.0"/>
<line x1="563.6" y1="405.6" x2="584.8" y2="405.6" stroke="#1a1a1a" stroke-width="1.0"/>
<line x1="591" y1="405.6" x2="596" y2="405.6" stroke="#1a1a1a" stroke-width="1.0"/>
<path d="M552.9,419.3 H584.8 Q590.6,419.3 590.6,424.8 Q590.6,430.3 584.8,430.3 H552.9" stroke="#000" stroke-width="2.3" fill="none" stroke-linejoin="round"/>
<line x1="584.8" y1="419.3" x2="584.8" y2="430.3" stroke="#1a1a1a" stroke-width="1.0"/>
<line x1="553" y1="424.8" x2="557" y2="424.8" stroke="#1a1a1a" stroke-width="1.0"/>
<line x1="563.6" y1="424.8" x2="584.8" y2="424.8" stroke="#1a1a1a" stroke-width="1.0"/>
<line x1="591" y1="424.8" x2="596" y2="424.8" stroke="#1a1a1a" stroke-width="1.0"/>
<line x1="590" y1="368" x2="590" y2="381.8" stroke="#1a1a1a" stroke-width="1.0"/>
<line x1="563.5" y1="374.9" x2="566.5" y2="374.9" stroke="#1a1a1a" stroke-width="1.0"/>
<line x1="572" y1="374.9" x2="590" y2="374.9" stroke="#1a1a1a" stroke-width="1.0"/>
<line x1="598" y1="374.9" x2="601" y2="374.9" stroke="#1a1a1a" stroke-width="1.0"/>
<path d="M553.3,432 Q561.6,431.5 561.6,436.4 H588 Q594.3,436.4 594.3,443.7" stroke="#000" stroke-width="2.3" fill="none" stroke-linejoin="round"/>
<path d="M561.6,439.1 H587.5 Q591.5,439.1 591.5,443.7" stroke="#000" stroke-width="1.8" fill="none" stroke-linejoin="round"/>
<g transform="translate(0 887.4) scale(1 -1)">
<path d="M250,388.8 H226.5 Q223.3,388.8 223.3,392 V435.2 Q223.3,438.2 226.5,438.2 H250" stroke="#000" stroke-width="2.3" fill="none" stroke-linejoin="round"/>
<line x1="250" y1="436.4" x2="225.5" y2="436.4" stroke="#000" stroke-width="2.3"/>
<line x1="226.5" y1="391" x2="226.5" y2="436" stroke="#1a1a1a" stroke-width="0.9"/>
<line x1="226.5" y1="430" x2="250" y2="430" stroke="#1a1a1a" stroke-width="0.9"/>
<path d="M250,443.7 V353.5 Q250,350.4 253,350.4 H356 Q358.6,350.4 359.6,347.6" stroke="#000" stroke-width="2.3" fill="none" stroke-linejoin="round"/>
<line x1="355.9" y1="351.5" x2="355.9" y2="443.7" stroke="#1a1a1a" stroke-width="1.5"/>
<line x1="252.3" y1="352" x2="252.3" y2="443.7" stroke="#1a1a1a" stroke-width="0.9"/>
<path d="M362,321.2 H387.5" stroke="#000" stroke-width="2.3" fill="none" stroke-linejoin="round"/>
<path d="M362,323.1 H387.5" stroke="#000" stroke-width="1.6" fill="none" stroke-linejoin="round"/>
<path d="M387.5,320.8 V443.7" stroke="#000" stroke-width="2.3" fill="none" stroke-linejoin="round"/>
<path d="M362,321.2 Q359.3,333 359.7,346 Q360.2,354 362,361.4" stroke="#000" stroke-width="2.3" fill="none" stroke-linejoin="round"/>
<path d="M362,361.4 Q361.6,405 359.4,443.7" stroke="#000" stroke-width="2.3" fill="none" stroke-linejoin="round"/>
<path d="M360.3,346 L359.6,443.7" stroke="#000" stroke-width="2.0" fill="none" stroke-linejoin="round"/>
<line x1="362" y1="363.3" x2="387.5" y2="363.3" stroke="#000" stroke-width="2.3"/>
<line x1="362" y1="403.8" x2="387.5" y2="403.8" stroke="#000" stroke-width="2.3"/>
<path d="M387.6,443.7 V339 A14,14 0 0 1 415.6,339 V443.7" stroke="#000" stroke-width="2.3" fill="none" stroke-linejoin="round"/>
<path d="M416,353 Q417,351.2 419.4,351 L430.1,334.3 H442.7" stroke="#000" stroke-width="2.3" fill="none" stroke-linejoin="round"/>
<line x1="418.6" y1="352" x2="418.6" y2="443.7" stroke="#1a1a1a" stroke-width="1.0"/>
<line x1="430.1" y1="345.3" x2="442.7" y2="345.3" stroke="#000" stroke-width="1.6"/>
<path d="M430.1,334.3 V383.7 H442.7" stroke="#000" stroke-width="2.3" fill="none" stroke-linejoin="round"/>
<path d="M430.1,383.7 Q420.5,415 419.5,443.7" stroke="#000" stroke-width="2.3" fill="none" stroke-linejoin="round"/>
<path d="M442.7,443.7 V300.2 H478 L482.3,313.9 V332 Q481.5,347 478,361.3 H442.7" stroke="#000" stroke-width="2.3" fill="none" stroke-linejoin="round"/>
<line x1="442.7" y1="382.8" x2="478" y2="382.8" stroke="#000" stroke-width="2.3"/>
<path d="M478,361.3 V383 Q481.5,410 482.3,443.7" stroke="#000" stroke-width="2.3" fill="none" stroke-linejoin="round"/>
<path d="M482.3,334.3 H490 L497.8,345.8 V443.7" stroke="#000" stroke-width="2.3" fill="none" stroke-linejoin="round"/>
<line x1="482.3" y1="345.3" x2="497.8" y2="345.3" stroke="#000" stroke-width="1.6"/>
<path d="M490,334.3 V383.7 H482.3" stroke="#000" stroke-width="2.3" fill="none" stroke-linejoin="round"/>
<path d="M490,383.7 Q495,400 497.8,413" stroke="#000" stroke-width="2.3" fill="none" stroke-linejoin="round"/>
<path d="M482.3,313.9 V443.7" stroke="#000" stroke-width="1.6" fill="none" stroke-linejoin="round"/>
<path d="M497.9,349.2 H506 Q509.2,349.2 509.2,352.3 V443.7" stroke="#000" stroke-width="2.3" fill="none" stroke-linejoin="round"/>
<line x1="510.8" y1="352" x2="510.8" y2="443.7" stroke="#1a1a1a" stroke-width="0.9"/>
<line x1="513.5" y1="368" x2="513.5" y2="443.7" stroke="#1a1a1a" stroke-width="0.9"/>
<path d="M509.2,365 Q509.5,367.8 513,367.8 H590 Q594.5,367.8 594.5,374.9 Q594.5,382 590,382 H552.9" stroke="#000" stroke-width="2.3" fill="none" stroke-linejoin="round"/>
<path d="M545.8,429.5 V370.3 H552.9 V432 M543.6,432.3 H553.3" stroke="#000" stroke-width="2.3" fill="none" stroke-linejoin="round"/>
<line x1="542.8" y1="368.5" x2="542.8" y2="432" stroke="#1a1a1a" stroke-width="0.9"/>
<path d="M512.2,379.8 H519.5 Q521.6,379.8 521.6,382 V400.6 Q521.6,402.8 519.5,402.8 H512.2" stroke="#000" stroke-width="2.3" fill="none" stroke-linejoin="round"/>
<line x1="512.5" y1="382.1" x2="521.6" y2="382.1" stroke="#1a1a1a" stroke-width="0.9"/>
<path d="M544.6,379.8 H532 Q529.7,379.8 529.7,382 V400.6 Q529.7,402.8 532,402.8 H544.6" stroke="#000" stroke-width="2.3" fill="none" stroke-linejoin="round"/>
<path d="M537.7,383.6 V402.8" stroke="#000" stroke-width="2.0" fill="none" stroke-linejoin="round"/>
<path d="M530.5,381 L537.7,383.8 H544.6" stroke="#000" stroke-width="1.2" fill="none" stroke-linejoin="round"/>
<line x1="513" y1="429.2" x2="543.5" y2="429.2" stroke="#000" stroke-width="2.3"/>
<line x1="555.5" y1="370.3" x2="555.5" y2="376" stroke="#1a1a1a" stroke-width="1.3"/>
<line x1="560.1" y1="370.3" x2="560.1" y2="376" stroke="#1a1a1a" stroke-width="1.3"/>
<path d="M553,380 Q556,377.3 562.4,377.3" stroke="#000" stroke-width="1.0" fill="none" stroke-linejoin="round"/>
<path d="M552.9,400.2 H584.8 Q590.6,400.2 590.6,405.6 Q590.6,411.0 584.8,411.0 H552.9" stroke="#000" stroke-width="2.3" fill="none" stroke-linejoin="round"/>
<line x1="584.8" y1="400.2" x2="584.8" y2="411.0" stroke="#1a1a1a" stroke-width="1.0"/>
<line x1="553" y1="405.6" x2="557" y2="405.6" stroke="#1a1a1a" stroke-width="1.0"/>
<line x1="563.6" y1="405.6" x2="584.8" y2="405.6" stroke="#1a1a1a" stroke-width="1.0"/>
<line x1="591" y1="405.6" x2="596" y2="405.6" stroke="#1a1a1a" stroke-width="1.0"/>
<path d="M552.9,419.3 H584.8 Q590.6,419.3 590.6,424.8 Q590.6,430.3 584.8,430.3 H552.9" stroke="#000" stroke-width="2.3" fill="none" stroke-linejoin="round"/>
<line x1="584.8" y1="419.3" x2="584.8" y2="430.3" stroke="#1a1a1a" stroke-width="1.0"/>
<line x1="553" y1="424.8" x2="557" y2="424.8" stroke="#1a1a1a" stroke-width="1.0"/>
<line x1="563.6" y1="424.8" x2="584.8" y2="424.8" stroke="#1a1a1a" stroke-width="1.0"/>
<line x1="591" y1="424.8" x2="596" y2="424.8" stroke="#1a1a1a" stroke-width="1.0"/>
<line x1="590" y1="368" x2="590" y2="381.8" stroke="#1a1a1a" stroke-width="1.0"/>
<line x1="563.5" y1="374.9" x2="566.5" y2="374.9" stroke="#1a1a1a" stroke-width="1.0"/>
<line x1="572" y1="374.9" x2="590" y2="374.9" stroke="#1a1a1a" stroke-width="1.0"/>
<line x1="598" y1="374.9" x2="601" y2="374.9" stroke="#1a1a1a" stroke-width="1.0"/>
<path d="M553.3,432 Q561.6,431.5 561.6,436.4 H588 Q594.3,436.4 594.3,443.7" stroke="#000" stroke-width="2.3" fill="none" stroke-linejoin="round"/>
<path d="M561.6,439.1 H587.5 Q591.5,439.1 591.5,443.7" stroke="#000" stroke-width="1.8" fill="none" stroke-linejoin="round"/>
</g>
</svg></body></html>
